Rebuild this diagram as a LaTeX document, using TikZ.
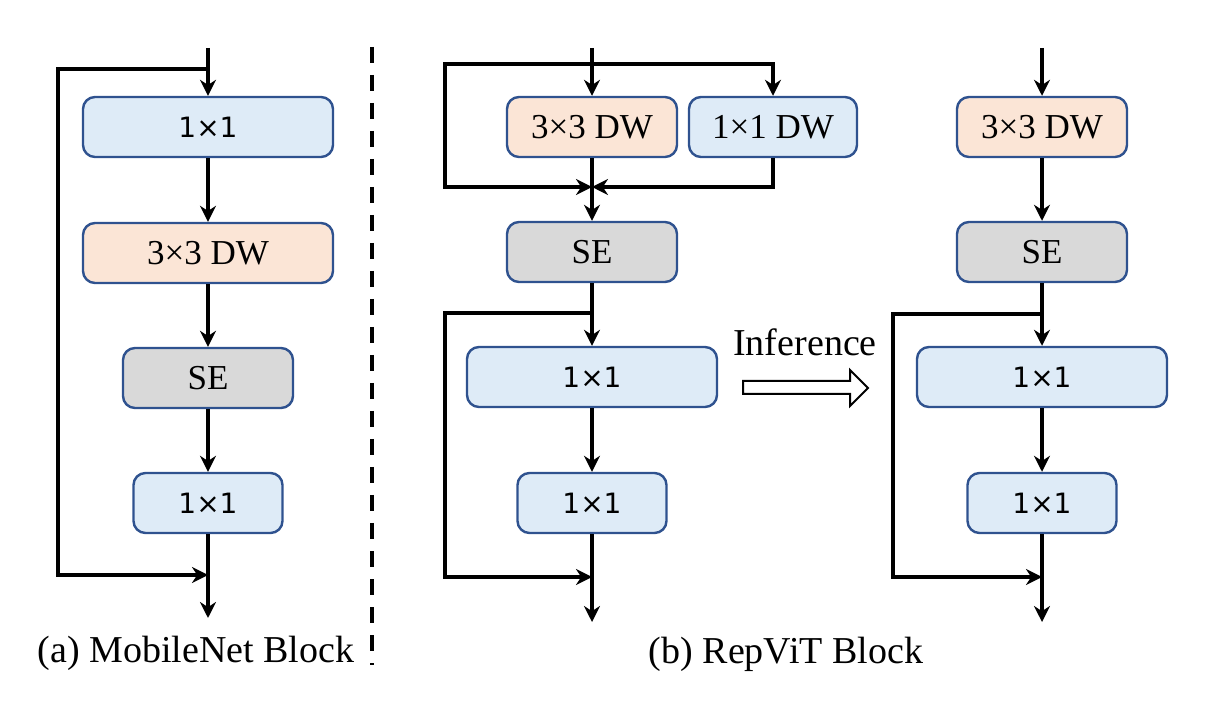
\documentclass[tikz,border=0pt]{standalone}
\usepackage{fontspec}
\setmainfont{Liberation Serif}
\newfontfamily\convfont{DejaVu Sans}
\usepackage{tikz}
\usetikzlibrary{arrows.meta}

\definecolor{boxline}{RGB}{47,82,143}
\definecolor{convblue}{RGB}{222,235,247}
\definecolor{dworange}{RGB}{251,229,214}
\definecolor{segray}{RGB}{217,217,217}

\tikzset{
    block/.style={draw=boxline, line width=1.2pt, rounded corners=6pt, minimum height=30pt, inner sep=0pt},
    conv/.style={block, fill=convblue, font=\convfont\fontsize{14}{16}\selectfont},
    dwconv/.style={block, fill=dworange, font=\fontsize{17.5}{20}\selectfont},
    pwdw/.style={block, fill=convblue, font=\fontsize{17.5}{20}\selectfont},
    sebox/.style={block, fill=segray, font=\fontsize{17.5}{20}\selectfont},
    flow/.style={line width=2pt, -{Stealth[length=8pt, width=8pt, inset=2.6pt]}},
    caption/.style={anchor=base, font=\fontsize{19}{22}\selectfont},
}

\begin{document}
\begin{tikzpicture}[x=0.5pt, y=-0.5pt]
        \useasboundingbox (0,0) rectangle (1224,704);

        % (a) MobileNet block
        \coordinate (ain) at (208,48);
        \coordinate (asplit) at (208,69);
        \coordinate (amerge) at (208,575);
        \coordinate (aout) at (208,618);
        \node[conv, minimum width=125pt] (a1) at (208,127) {1×1};
        \node[dwconv, minimum width=125pt] (a2) at (208,253) {3×3 DW};
        \node[sebox, minimum width=85pt] (a3) at (208,378) {SE};
        \node[conv, minimum width=74.5pt] (a4) at (208,503) {1×1};

        \draw[flow] (ain) -- (a1);
        \draw[flow] (a1) -- (a2);
        \draw[flow] (a2) -- (a3);
        \draw[flow] (a3) -- (a4);
        \draw[flow] (a4) -- (aout);
        \draw[flow] (asplit) -- ++(-150,0) |- (amerge);

        \node[caption] (capa) at (196,662) {(a) MobileNet Block};

        \draw[line width=2pt, dash pattern=on 8pt off 6pt] (372,47) -- (372,665);

        % (b) RepViT block, training
        \coordinate (bin) at (592,48);
        \coordinate (bsplit) at (592,64);
        \coordinate (bjoin) at (592,187);
        \coordinate (bskip) at (592,313);
        \coordinate (bmerge) at (592,577);
        \coordinate (bout) at (592,622);
        \node[dwconv, minimum width=85pt] (b1) at (592,127) {3×3 DW};
        \node[pwdw, minimum width=84pt] (b2) at (773,127) {1×1 DW};
        \node[sebox, minimum width=85pt] (b3) at (592,252) {SE};
        \node[conv, minimum width=125pt] (b4) at (592,377) {1×1};
        \node[conv, minimum width=74.5pt] (b5) at (592,503) {1×1};

        \draw[flow] (bin) -- (b1);
        \draw[flow] (bsplit) -| (b2);
        \draw[flow] (bsplit) -- ++(-147,0) |- (bjoin);
        \draw[flow] (b2) |- (bjoin);
        \draw[flow] (b1) -- (b3);
        \draw[flow] (b3) -- (b4);
        \draw[flow] (b4) -- (b5);
        \draw[flow] (b5) -- (bout);
        \draw[flow] (bskip) -- ++(-147,0) |- (bmerge);

        % inference
        \node[caption] (inf) at (805,356) {Inference};
        \draw[line width=1pt] (743,381) -- (850,381) -- (850,370) -- (868,388)
            -- (850,406) -- (850,394) -- (743,394) -- cycle;

        % (b) RepViT block, inference
        \coordinate (cin) at (1042,48);
        \coordinate (cskip) at (1042,314);
        \coordinate (cmerge) at (1042,577);
        \coordinate (cout) at (1042,622);
        \node[dwconv, minimum width=85pt] (c1) at (1042,127) {3×3 DW};
        \node[sebox, minimum width=85pt] (c2) at (1042,252) {SE};
        \node[conv, minimum width=125pt] (c3) at (1042,377) {1×1};
        \node[conv, minimum width=74.5pt] (c4) at (1042,503) {1×1};

        \draw[flow] (cin) -- (c1);
        \draw[flow] (c1) -- (c2);
        \draw[flow] (c2) -- (c3);
        \draw[flow] (c3) -- (c4);
        \draw[flow] (c4) -- (cout);
        \draw[flow] (cskip) -- ++(-149,0) |- (cmerge);

        \node[caption] (capb) at (786,663) {(b) RepViT Block};

    \end{tikzpicture}
\end{document}
